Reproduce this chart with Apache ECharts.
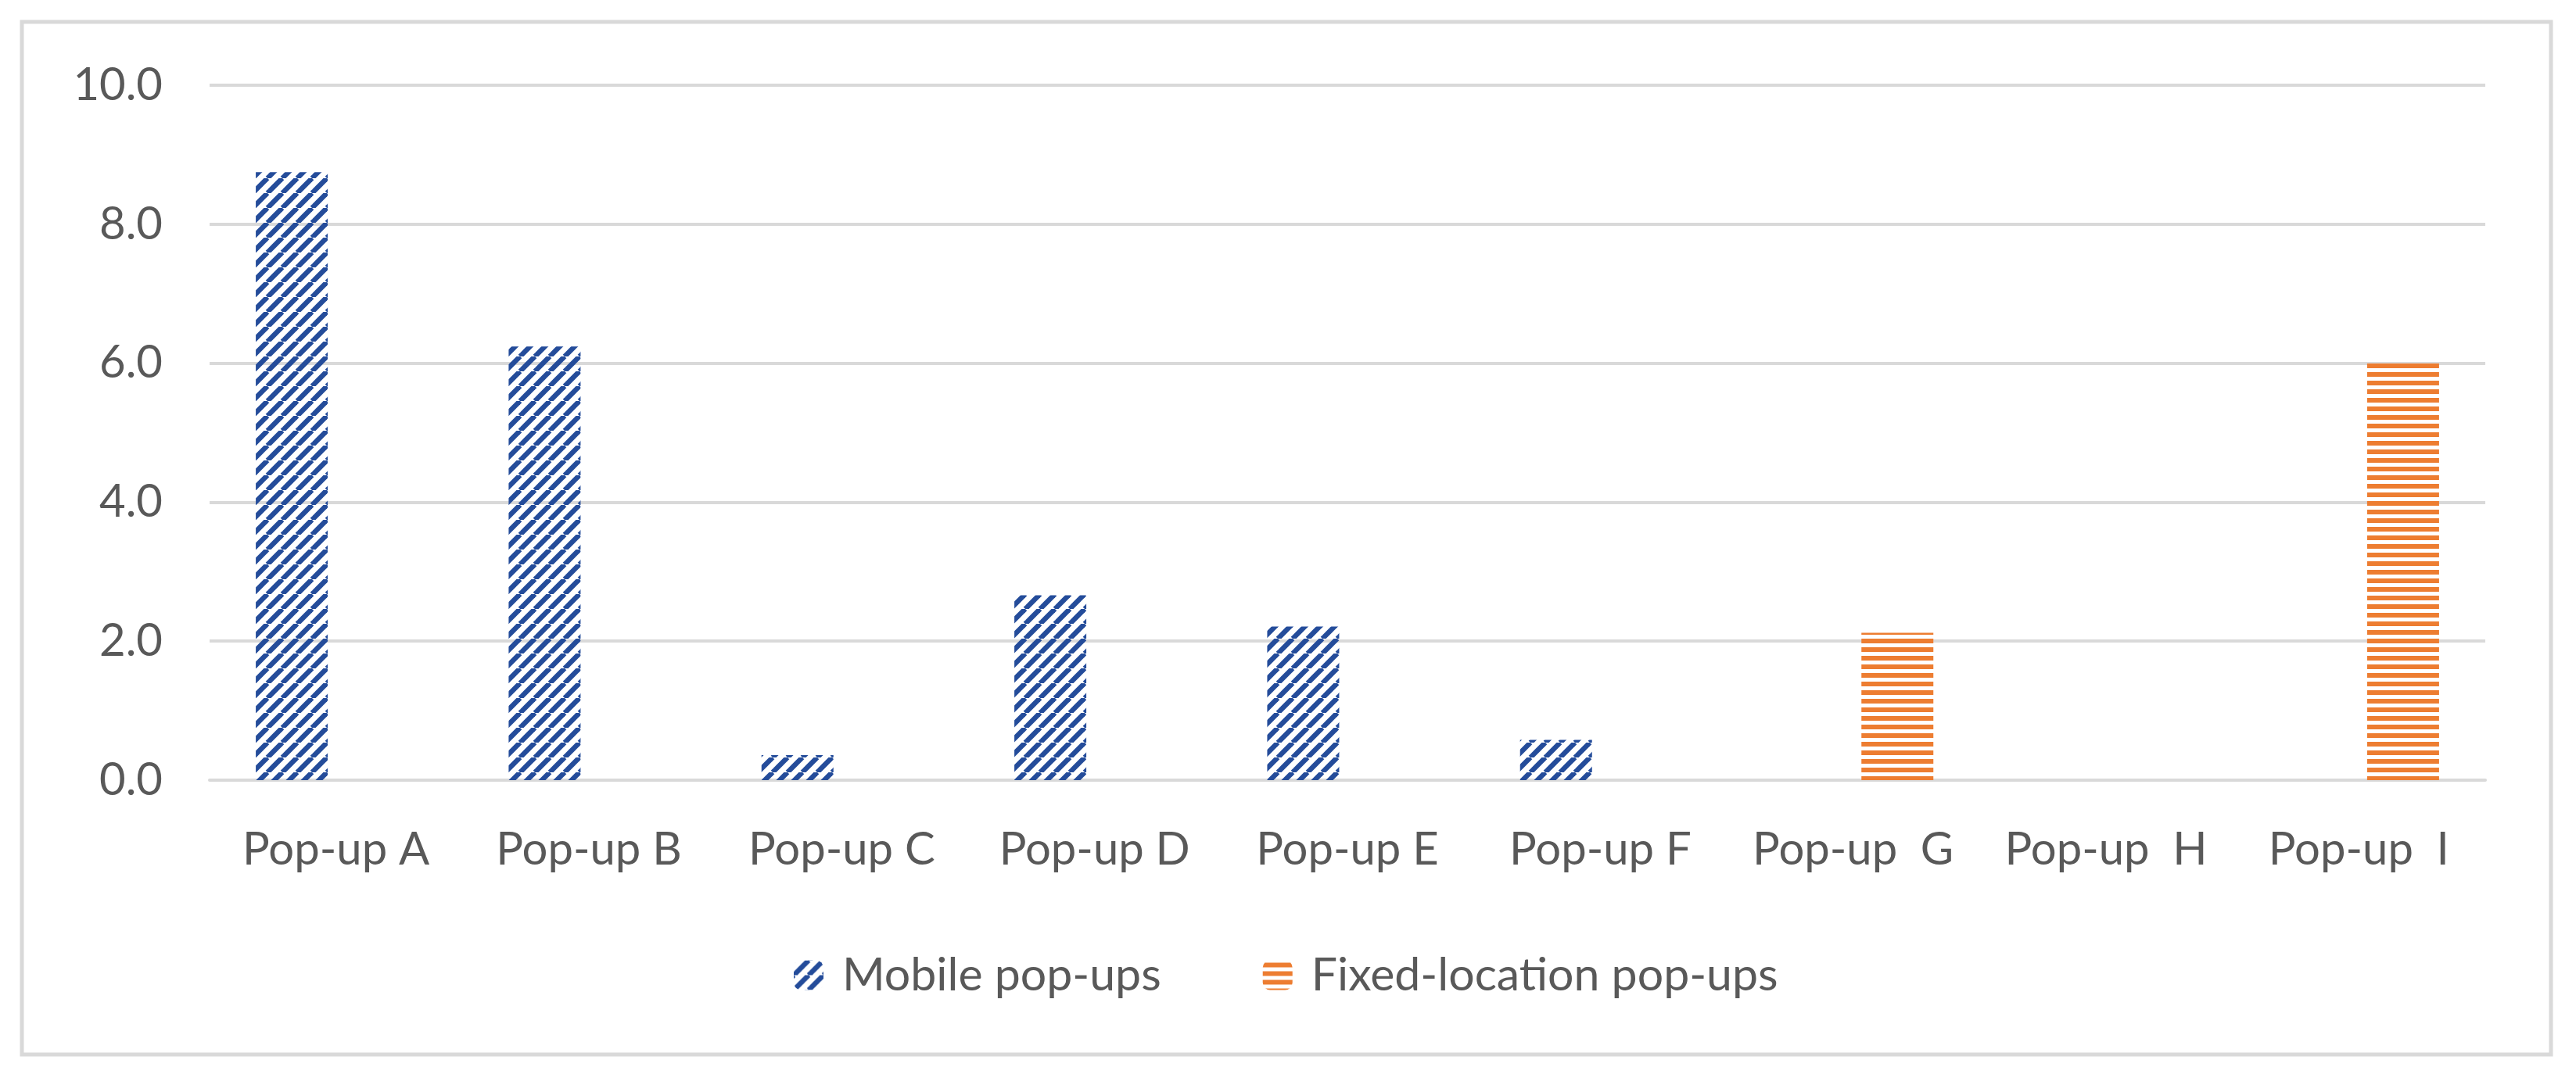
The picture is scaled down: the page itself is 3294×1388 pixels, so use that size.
<!DOCTYPE html>
<html>
<head>
<meta charset="utf-8">
<script src="https://cdn.jsdelivr.net/npm/echarts@6/dist/echarts.min.js"></script>
<style>
  html, body { margin: 0; padding: 0; background: #fff; }
  #chart { width: 3294px; height: 1388px; }
</style>
</head>
<body>
<div id="chart"></div>
<script>
// data
const categories = ['Pop-up A', 'Pop-up B', 'Pop-up C', 'Pop-up D', 'Pop-up E', 'Pop-up F', 'Pop-up  G', 'Pop-up  H', 'Pop-up  I'];
const mobileValues = [8.75, 6.24, 0.36, 2.66, 2.21, 0.58, 0, 0, 0];
const fixedValues = [0, 0, 0, 0, 0, 0, 2.12, 0, 6.0];
const seriesNames = ['Mobile pop-ups', 'Fixed-location pop-ups'];

const blue = '#244c9a';
const orange = '#ed7d31';
const textColor = '#595959';
const lineColor = '#d9d9d9';
const fontName = 'Lato, "Open Sans", sans-serif';

// diagonal hatch tile (wide upward diagonal)
function diagTile (color) {
	let s = 19;
	let c = document.createElement('canvas');
	c.width = s; c.height = s;
	let ctx = c.getContext('2d');
	ctx.strokeStyle = color;
	ctx.lineWidth = 6.5;
	for (let k = -1; k <= 1; k++) {
		ctx.beginPath();
		ctx.moveTo(k * s, s);
		ctx.lineTo(k * s + s, 0);
		ctx.stroke();
	}
	return c;
}

// horizontal line tile
function horizTile (color) {
	let c = document.createElement('canvas');
	c.width = 8; c.height = 11;
	let ctx = c.getContext('2d');
	ctx.fillStyle = color;
	ctx.fillRect(0, 3, 8, 6);
	return c;
}

let myChart = echarts.init(document.getElementById('chart'));
let option = {
	backgroundColor: '#fff',
	animation: false,
	graphic: [{
		type: 'rect',
		shape: { x: 28, y: 28, width: 3234, height: 1321 },
		style: { fill: 'none', stroke: lineColor, lineWidth: 5 },
		silent: true
	}],
	legend: {
		left: 1010,
		top: 1213,
		itemWidth: 38,
		itemHeight: 38,
		itemGap: 130,
		textStyle: {
			color: textColor,
			fontFamily: fontName,
			fontSize: 59,
			padding: [0, 0, 0, 19]
		},
		data: seriesNames
	},
	grid: {
		left: 268,
		right: 116,
		top: 109,
		bottom: 390,
		containLabel: false
	},
	xAxis: {
		type: 'category',
		data: categories,
		axisTick: { show: false },
		axisLine: { lineStyle: { color: lineColor, width: 4 } },
		axisLabel: {
			color: textColor,
			fontFamily: fontName,
			fontSize: 58,
			margin: 60,
			interval: 0
		}
	},
	yAxis: {
		type: 'value',
		min: 0,
		max: 10,
		interval: 2,
		axisLine: { show: false },
		axisTick: { show: false },
		axisLabel: {
			color: textColor,
			fontFamily: fontName,
			fontSize: 58,
			margin: 60,
			formatter: v => v.toFixed(1)
		},
		splitLine: { lineStyle: { color: lineColor, width: 4 } }
	},
	series: [{
		name: seriesNames[0],
		type: 'bar',
		data: mobileValues,
		barWidth: 92,
		barGap: '23%',
		itemStyle: { color: { image: diagTile(blue), repeat: 'repeat' } }
	}, {
		name: seriesNames[1],
		type: 'bar',
		data: fixedValues,
		barWidth: 92,
		itemStyle: { color: { image: horizTile(orange), repeat: 'repeat' } }
	}]
};
myChart.setOption(option);
</script>
</body>
</html>
